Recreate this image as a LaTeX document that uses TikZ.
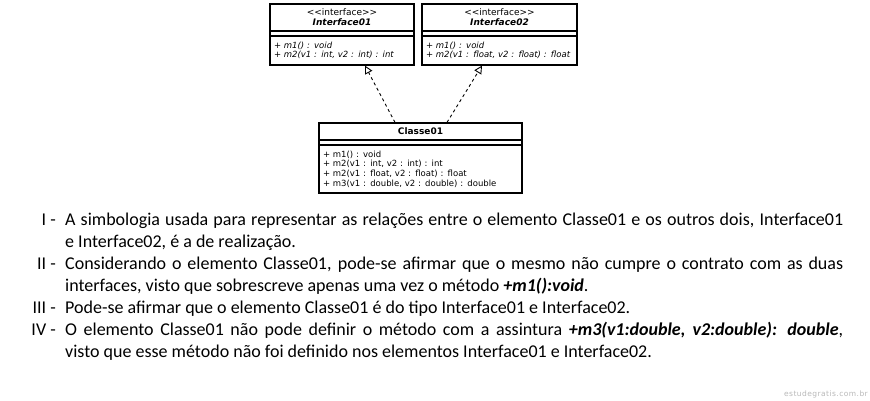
\documentclass[tikz,border=0pt]{standalone}
\usepackage{fontspec}
\setmainfont{Carlito}
\newfontfamily\umlfont{DejaVu Sans}
\newfontfamily\wmfont[LetterSpace=6]{DejaVu Sans}
\usetikzlibrary{positioning, arrows.meta}

\begin{document}
\begin{tikzpicture} [x=1pt, y=-1pt,
  box/.style={draw, line width=1.2pt, inner sep=0pt, font=\umlfont\fontsize{8.5}{9.6}\selectfont},
  hdr/.style={box, align=center, font=\umlfont\fontsize{9}{10}\selectfont},
  meth/.style={box, align=left, inner xsep=4pt},
  realize/.style={dash pattern=on 3pt off 3pt, line width=0.9pt, -{Triangle[open, length=8pt, width=8pt]}},
  num/.style={anchor=base east, inner sep=0pt, font=\fontsize{18}{22}\selectfont},
  item/.style={anchor=base west, inner sep=0pt, text width=778pt, align=justify, font=\fontsize{18}{22}\selectfont}]
\useasboundingbox (0,0) rectangle (870,400);

\node[hdr, minimum width=144, minimum height=27] (i1h) at (342,17.5) {<\kern0pt<interface>\kern0pt>\\ \bfseries\itshape Interface01};
\node[box, minimum width=144, minimum height=5] (i1a) at (342,33.5) {};
\node[meth, text width=136, minimum height=29] (i1m) at (342,50.5) {\itshape + m1() : void\\ \itshape + m2(v1 : int, v2 : int) : int};

\node[hdr, minimum width=155, minimum height=27] (i2h) at (499.5,17.5) {<\kern0pt<interface>\kern0pt>\\ \bfseries\itshape Interface02};
\node[box, minimum width=155, minimum height=5] (i2a) at (499.5,33.5) {};
\node[meth, text width=147, minimum height=29] (i2m) at (499.5,50.5) {\itshape + m1() : void\\ \itshape + m2(v1 : float, v2 : float) : float};

\node[hdr, minimum width=203, minimum height=17] (c1h) at (420.5,131.5) {\bfseries Classe01};
\node[box, minimum width=203, minimum height=5] (c1a) at (420.5,142.5) {};
\node[meth, text width=195, minimum height=48] (c1m) at (420.5,169) {+ m1() : void\\ + m2(v1 : int, v2 : int) : int\\ + m2(v1 : float, v2 : float) : float\\ + m3(v1 : double, v2 : double) : double};

\draw[realize] ([xshift=-25.5]c1h.north) -- ([xshift=23]i1m.south);
\draw[realize] ([xshift=26.5]c1h.north) -- ([xshift=-17.5]i2m.south);

\node[num] (n1) at (56,225) {I -};
\node[item] (t1) at (65,225) {A simbologia usada para representar as relações entre o elemento Classe01 e os outros dois, Interface01\linebreak e Interface02, é a de realização.};
\node[num] (n2) at (56,269) {II -};
\node[item] (t2) at (65,269) {Considerando o elemento Classe01, pode-se afirmar que o mesmo não cumpre o contrato com as duas\linebreak interfaces, visto que sobrescreve apenas uma vez o método \textbf{\textit{+m1():void}}.};
\node[num] (n3) at (56,313) {III -};
\node[item] (t3) at (65,313) {Pode-se afirmar que o elemento Classe01 é do tipo Interface01 e Interface02.};
\node[num] (n4) at (56,335) {IV -};
\node[item] (t4) at (65,335) {O elemento Classe01 não pode definir o método com a assintura \textbf{\textit{+m3(v1:double, v2:double): double}},\linebreak visto que esse método não foi definido nos elementos Interface01 e Interface02.};

\node[anchor=base east, inner sep=0pt, text=black!28, font=\wmfont\fontsize{7.5}{8}\selectfont] (wm) at (868,396) {estudegratis.com.br};
\end{tikzpicture}
\end{document}
